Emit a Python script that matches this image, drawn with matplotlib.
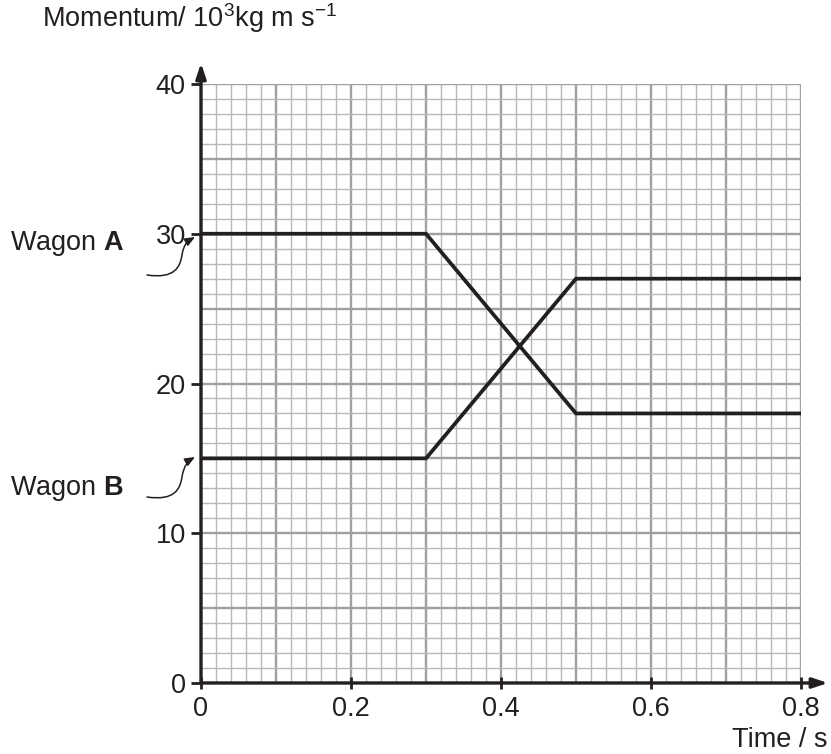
import matplotlib
matplotlib.use("Agg")
import matplotlib.pyplot as plt
import numpy as np
from matplotlib.path import Path
from matplotlib.patches import FancyArrowPatch

plt.rcParams['font.family'] = ['Liberation Sans', 'DejaVu Sans']
plt.rcParams['mathtext.fontset'] = 'custom'
plt.rcParams['mathtext.rm'] = 'Liberation Sans'
plt.rcParams['mathtext.it'] = 'Liberation Sans'
plt.rcParams['mathtext.bf'] = 'Liberation Sans:bold'

time_a = [0.0, 0.3, 0.5, 0.8]
mom_a = [30, 30, 18, 18]
time_b = [0.0, 0.3, 0.5, 0.8]
mom_b = [15, 15, 27, 27]
xticks = [0, 0.2, 0.4, 0.6, 0.8]
xticklabels = ['0', '0.2', '0.4', '0.6', '0.8']
yticks = [0, 10, 20, 30, 40]

FS = 19.5
INK = '#231f20'
W, H = 831, 754
fig = plt.figure(figsize=(W/100, H/100), dpi=100)
ax = fig.add_axes([201/W, 1-683/H, 600/W, 599/H])
ax.set_xlim(0, 0.8)
ax.set_ylim(0, 40)

# grid
for x in np.arange(0, 0.8001, 0.02):
    major = abs(round(x/0.1) - x/0.1) < 1e-6
    ax.axvline(x, color='#a0a0a0' if major else '#b8b8b8', lw=1.7 if major else 1.0, zorder=1)
for y in np.arange(0, 40.001, 1):
    major = abs(round(y/5) - y/5) < 1e-6
    ax.axhline(y, color='#a0a0a0' if major else '#b8b8b8', lw=1.7 if major else 1.0, zorder=1)

for s in ax.spines.values():
    s.set_visible(False)

ax.plot(time_a, mom_a, color=INK, lw=2.7, zorder=5, solid_joinstyle='miter')
ax.plot(time_b, mom_b, color=INK, lw=2.7, zorder=5, solid_joinstyle='miter')

ax.set_xticks(xticks)
ax.set_xticklabels(xticklabels)
ax.set_yticks(yticks)
ax.tick_params(axis='x', direction='inout', length=9, width=2, color=INK,
               labelsize=FS, pad=5, labelcolor=INK)
ax.tick_params(axis='y', direction='out', length=7, width=2, color=INK,
               labelsize=FS, pad=4, labelcolor=INK)

# axes with arrows
ax.annotate('', xy=(0, 1.035), xytext=(0, 0), xycoords='axes fraction',
            arrowprops=dict(arrowstyle='-|>,head_length=0.9,head_width=0.3', lw=2.4,
                            color=INK, shrinkA=0, shrinkB=0), zorder=6)
ax.annotate('', xy=(1.045, 0), xytext=(0, 0), xycoords='axes fraction',
            arrowprops=dict(arrowstyle='-|>,head_length=0.9,head_width=0.3', lw=2.4,
                            color=INK, shrinkA=0, shrinkB=0), zorder=6)

fig.text(42/W, 1-18/H, 'Momentum/ 10$^3$kg m s$^{-1}$', fontsize=FS,
         ha='left', va='center', color=INK)
fig.text(828/W, 1-740/H, 'Time / s', fontsize=FS, ha='right', va='center', color=INK)

fig.text(10/W, 1-243/H, r'Wagon $\mathbf{A}$', fontsize=FS, ha='left', va='center', color=INK)
fig.text(10/W, 1-488/H, r'Wagon $\mathbf{B}$', fontsize=FS, ha='left', va='center', color=INK)

def curly(y0, ytip):
    verts = [(147, y0), (175, y0+4), (180, y0-8), (182, y0-20),
             (184, y0-32), (188, ytip+4), (195, ytip)]
    verts = [(vx/W, 1-vy/H) for vx, vy in verts]
    codes = [Path.MOVETO, Path.CURVE4, Path.CURVE4, Path.CURVE4,
             Path.CURVE4, Path.CURVE4, Path.CURVE4]
    p = Path(verts, codes)
    a = FancyArrowPatch(path=p, arrowstyle='-|>,head_length=6,head_width=2.5',
                        lw=1.1, color=INK, transform=fig.transFigure)
    fig.patches.append(a)

curly(275, 237)
curly(497, 457)

fig.savefig('out.png', dpi=100)
